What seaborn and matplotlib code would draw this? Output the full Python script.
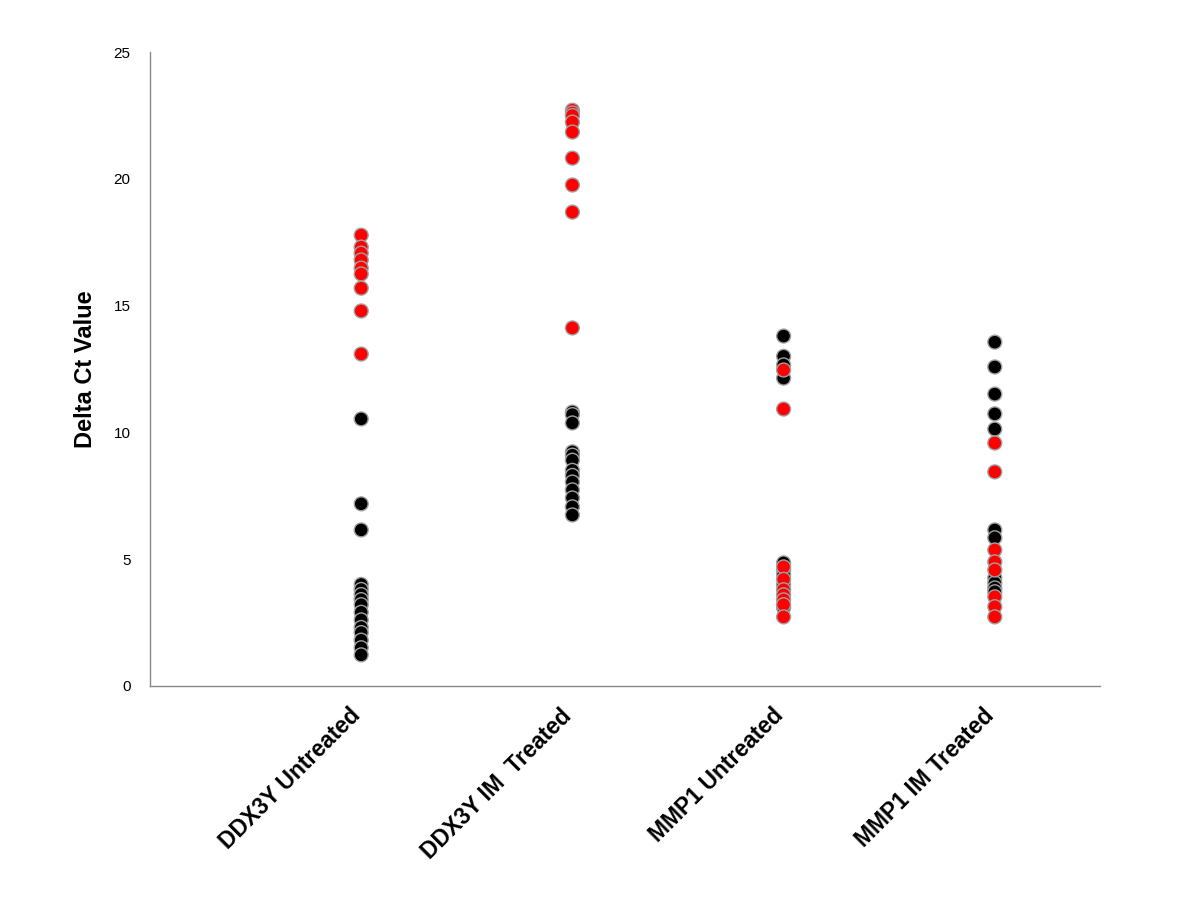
import pandas as pd
import matplotlib.pyplot as plt
import matplotlib.transforms as mtransforms
import seaborn as sns

# Delta Ct values, split by group and point colour
categories = ['DDX3Y Untreated', 'DDX3Y IM  Treated', 'MMP1 Untreated', 'MMP1 IM Treated']

ddx3y_untreated_red = [17.78, 17.31, 17.07, 16.8, 16.48, 16.25, 15.69, 14.79, 13.09]
ddx3y_untreated_black = [10.53, 7.18, 6.15, 4.0, 3.8, 3.6, 3.4, 3.2, 2.9, 2.6, 2.3, 2.1, 1.8, 1.5, 1.22]

ddx3y_treated_red = [22.71, 22.6, 22.5, 22.24, 21.85, 20.82, 19.76, 18.69, 14.12]
ddx3y_treated_black = [10.8, 10.7, 10.37, 9.23, 9.1, 8.9, 8.5, 8.3, 8.04, 7.73, 7.41, 7.06, 6.74]

mmp1_untreated_red = [12.46, 10.92, 4.69, 4.2, 3.79, 3.59, 3.39, 3.2, 2.72]
mmp1_untreated_black = [13.8, 13.0, 12.66, 12.14, 4.85, 4.57, 4.38, 3.98, 3.08]

mmp1_treated_red = [9.58, 8.44, 5.36, 4.89, 4.57, 3.51, 3.12, 2.72]
mmp1_treated_black = [13.56, 12.58, 11.51, 10.73, 10.13, 6.15, 5.84, 4.26, 4.06, 3.86, 3.71]

groups = [
    (categories[0], ddx3y_untreated_red, ddx3y_untreated_black),
    (categories[1], ddx3y_treated_red, ddx3y_treated_black),
    (categories[2], mmp1_untreated_red, mmp1_untreated_black),
    (categories[3], mmp1_treated_red, mmp1_treated_black),
]

rows = []
for name, reds, blacks in groups:
    for v in blacks:
        rows.append({'group': name, 'value': v, 'colour': 'black'})
    for v in reds:
        rows.append({'group': name, 'value': v, 'colour': 'red'})
df = pd.DataFrame(rows)

sns.set_style('white')
plt.rcParams['font.family'] = ['Liberation Sans', 'DejaVu Sans']
plt.rcParams['text.color'] = 'black'
plt.rcParams['axes.labelcolor'] = 'black'
plt.rcParams['xtick.color'] = 'black'
plt.rcParams['ytick.color'] = 'black'

fig, ax = plt.subplots(figsize=(12, 9), dpi=100)
fig.subplots_adjust(left=0.125, right=0.917, bottom=0.238, top=0.942)

sns.stripplot(data=df, x='group', y='value', hue='colour', order=categories,
              palette={'black': 'black', 'red': '#ff0000'}, jitter=False,
              size=10, linewidth=1, edgecolor='#a0a0a0', legend=False, ax=ax)

ax.set_xlim(-1, 3.5)
ax.set_ylim(0, 25)
ax.set_yticks([0, 5, 10, 15, 20, 25])
ax.tick_params(axis='y', labelsize=11, length=0, pad=14)
ax.tick_params(axis='x', length=0, pad=6)
ax.set_xticks(range(len(categories)))
ax.set_xticklabels(categories, rotation=45, ha='right', va='top',
                   rotation_mode='anchor', fontsize=16.5, fontweight='bold')
# nudge the rotated labels left and down, like the original
shift = mtransforms.ScaledTranslation(-12 / 100, -10 / 100, fig.dpi_scale_trans)
for lab in ax.get_xticklabels():
    lab.set_transform(lab.get_transform() + shift)
ax.set_xlabel('')
ax.set_ylabel('Delta Ct Value', fontsize=17, fontweight='bold', labelpad=12)

for side in ['top', 'right']:
    ax.spines[side].set_visible(False)
for side in ['left', 'bottom']:
    ax.spines[side].set_color('#888888')
    ax.spines[side].set_linewidth(1)

fig.savefig('out.png', dpi=100)
